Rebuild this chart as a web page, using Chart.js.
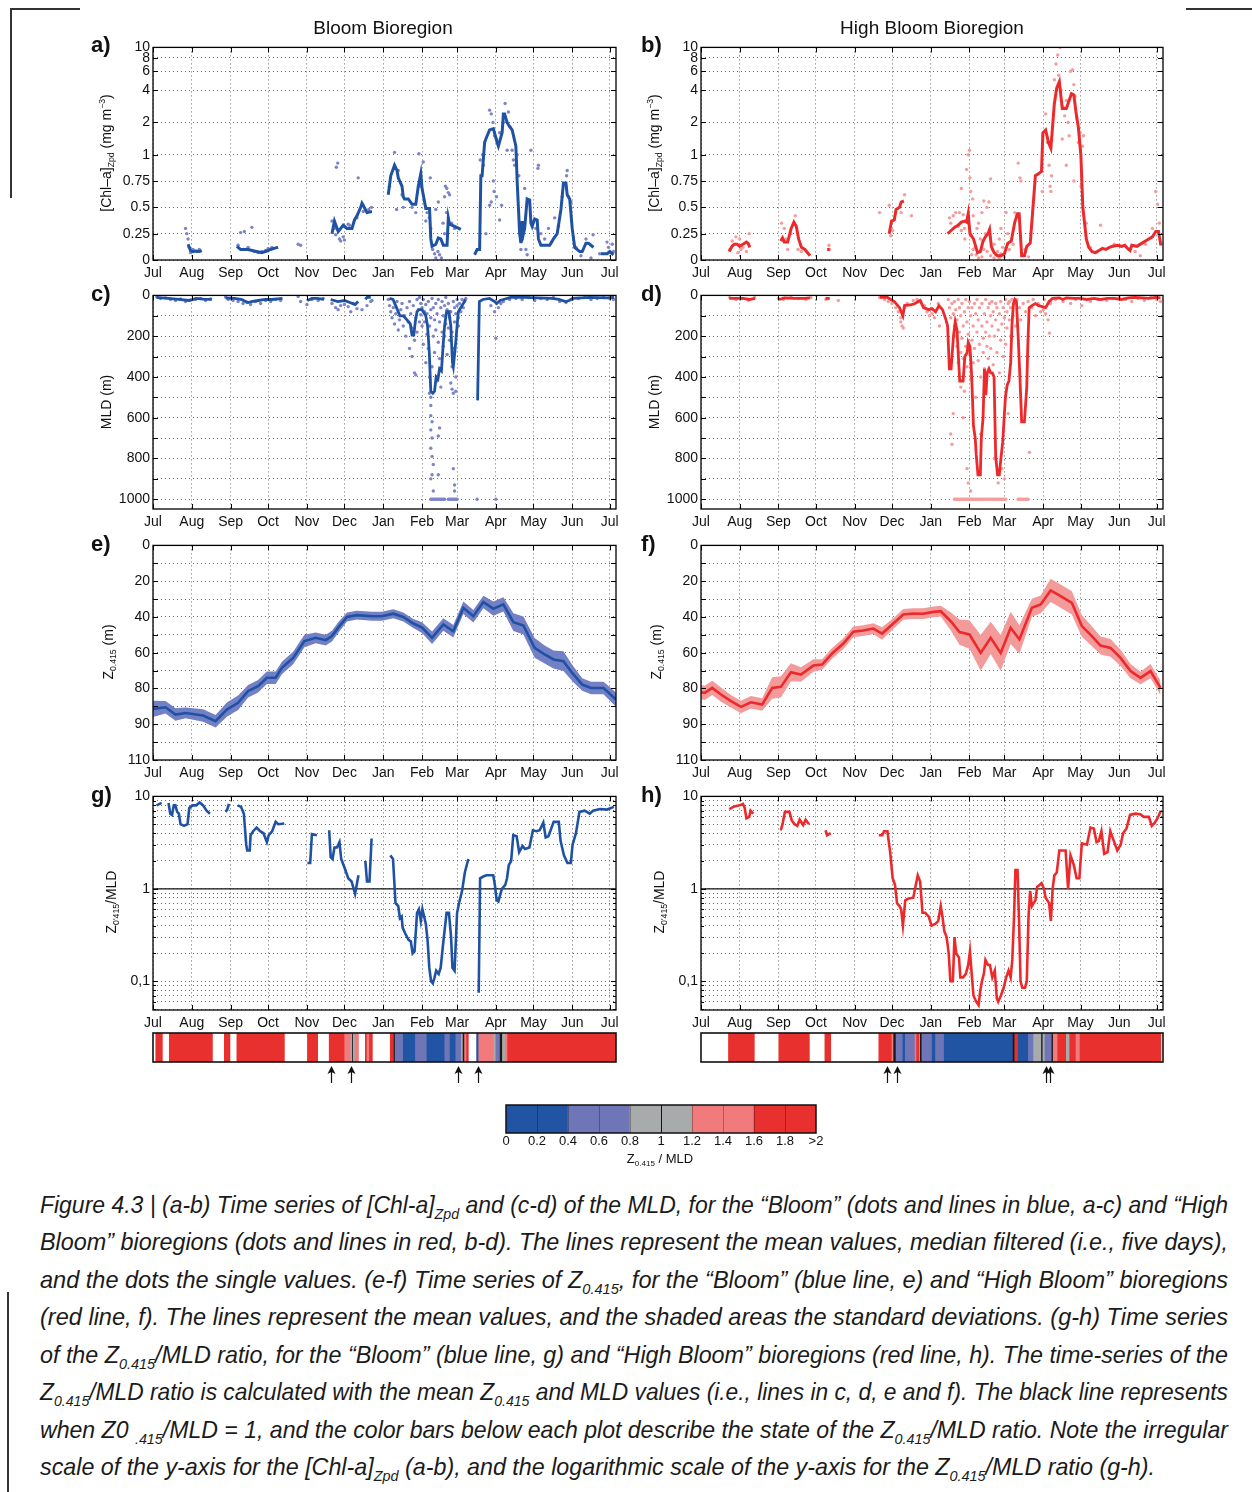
<!DOCTYPE html>
<html>
<head>
<meta charset="utf-8">
<title>Figure 4.3</title>
<script src="https://cdn.jsdelivr.net/npm/chart.js"></script>
<style>
  html, body { margin: 0; padding: 0; background: #fff; }
  body { width: 1252px; height: 1492px; position: relative; overflow: hidden; font-family: "Liberation Sans", Arial, sans-serif; color: #111; }
  canvas { position: absolute; }
  .txt { position: absolute; white-space: nowrap; z-index: 2; }
  .title { font-size: 19px; transform: translate(-50%, -50%); }
  .letter { font-size: 22px; font-weight: bold; transform: translateY(-50%); }
  .ytitle { font-size: 14px; transform: translate(-50%, -50%) rotate(-90deg); }
  .cbtitle { font-size: 13px; transform: translate(-50%, -50%); }
  .rule { position: absolute; background: #333; }
  .cap { position: absolute; left: 40px; font-family: "Liberation Sans Narrow", "Liberation Sans", Arial, sans-serif; font-size: 24px; font-style: italic; white-space: nowrap; transform-origin: 0 50%; color: #1b1b1b; line-height: 30px; }
  sub { font-size: 0.62em; vertical-align: -0.4em; line-height: 0; }
  sup { font-size: 0.62em; vertical-align: 0.65em; line-height: 0; }
</style>
</head>
<body>
<div class="rule" style="left:10px;top:8px;width:70px;height:1.5px"></div>
<div class="rule" style="left:10px;top:8px;width:1.5px;height:190px"></div>
<div class="rule" style="left:1186px;top:8px;width:66px;height:1.5px"></div>
<div class="rule" style="left:7px;top:1292px;width:1.5px;height:200px"></div>

<canvas id="chlBloom"></canvas><canvas id="chlHigh"></canvas>
<canvas id="mldBloom"></canvas><canvas id="mldHigh"></canvas>
<canvas id="zBloom"></canvas><canvas id="zHigh"></canvas>
<canvas id="ratioBloom"></canvas><canvas id="ratioHigh"></canvas>
<canvas id="stripBloom"></canvas><canvas id="stripHigh"></canvas>
<canvas id="colorbar"></canvas>

<div class="txt title" style="left:383px;top:28px">Bloom Bioregion</div>
<div class="txt title" style="left:932px;top:28px">High Bloom Bioregion</div>

<div class="txt letter" style="left:91px;top:45px">a)</div>
<div class="txt letter" style="left:641px;top:45px">b)</div>
<div class="txt letter" style="left:91px;top:294px">c)</div>
<div class="txt letter" style="left:641px;top:294px">d)</div>
<div class="txt letter" style="left:91px;top:544px">e)</div>
<div class="txt letter" style="left:641px;top:544px">f)</div>
<div class="txt letter" style="left:91px;top:795px">g)</div>
<div class="txt letter" style="left:641px;top:795px">h)</div>

<div class="txt ytitle" style="left:106px;top:153px">[Chl–a]<sub>Zpd</sub> (mg m<sup>−3</sup>)</div>
<div class="txt ytitle" style="left:654px;top:153px">[Chl–a]<sub>Zpd</sub> (mg m<sup>−3</sup>)</div>
<div class="txt ytitle" style="left:106px;top:402px">MLD (m)</div>
<div class="txt ytitle" style="left:654px;top:402px">MLD (m)</div>
<div class="txt ytitle" style="left:108px;top:652px">Z<sub>0.415</sub> (m)</div>
<div class="txt ytitle" style="left:656px;top:652px">Z<sub>0.415</sub> (m)</div>
<div class="txt ytitle" style="left:111px;top:902px">Z<sub>0'415</sub>/MLD</div>
<div class="txt ytitle" style="left:659px;top:902px">Z<sub>0'415</sub>/MLD</div>

<div class="txt cbtitle" style="left:660px;top:1158px">Z<sub>0.415</sub> / MLD</div>

<div class="cap" style="top:1190px">Figure 4.3 | (a-b) Time series of [Chl-a]<sub>Zpd</sub> and (c-d) of the MLD, for the “Bloom” (dots and lines in blue, a-c) and  “High</div>
<div class="cap" style="top:1227px">Bloom” bioregions (dots and lines in red, b-d). The lines represent the mean values, median filtered (i.e., five days),</div>
<div class="cap" style="top:1265px">and the dots the single values. (e-f) Time series of Z<sub>0.415</sub>, for the “Bloom” (blue line, e) and “High Bloom” bioregions</div>
<div class="cap" style="top:1302px">(red line, f). The lines represent the mean values, and the shaded areas the standard deviations. (g-h) Time series</div>
<div class="cap" style="top:1340px">of the Z<sub>0.415</sub>/MLD ratio, for the “Bloom” (blue line, g) and “High Bloom” bioregions (red line, h). The time-series of the</div>
<div class="cap" style="top:1377px">Z<sub>0.415</sub>/MLD ratio is calculated with the mean Z<sub>0.415</sub> and MLD values (i.e., lines in c, d, e and f). The black line represents</div>
<div class="cap" style="top:1415px">when Z0 <sub>.415</sub>/MLD = 1, and the color bars below each plot describe the state of the Z<sub>0.415</sub>/MLD ratio. Note the irregular</div>
<div class="cap" style="top:1452px">scale of the y-axis for the [Chl-a]<sub>Zpd</sub> (a-b), and the logarithmic scale of the y-axis for the Z<sub>0.415</sub>/MLD ratio (g-h).</div>

<script>
// time axis: days since 1 July
const monthDays = [0, 31, 62, 92, 123, 153, 184, 215, 243, 274, 304, 335, 365];
const monthLabels = ['Jul', 'Aug', 'Sep', 'Oct', 'Nov', 'Dec', 'Jan', 'Feb', 'Mar', 'Apr', 'May', 'Jun', 'Jul'];

const chlTicks = [0, 0.25, 0.5, 0.75, 1, 2, 4, 6, 8, 10];
const mldTicks = [0, 100, 200, 300, 400, 500, 600, 700, 800, 900, 1000];
const mldLabelTicks = [0, 200, 400, 600, 800, 1000];
const zTicks = [0, 10, 20, 30, 40, 50, 60, 70, 80, 90, 100, 110, 120];
const zLabelVals = [0, 20, 40, 60, 80, 100, 120];
const zLabelText = ['0', '20', '40', '60', '80', '90', '110'];
const ratioTicks = [0.05, 0.06, 0.07, 0.08, 0.09, 0.1, 0.2, 0.3, 0.4, 0.5, 0.6, 0.7, 0.8, 0.9, 1, 2, 3, 4, 5, 6, 7, 8, 9, 10];
const ratioLabelVals = [0.1, 1, 10];
const ratioLabelText = ['0,1', '1', '10'];
const ratioRef = 1;

// (a) [Chl-a] Bloom: filtered line ([day, value], null = gap) and single values
const chlBloomLine = [
  [28,0.15],[30,0.09],[32,0.08],[34,0.085],[37,0.08],[39,0.09], null,
  [67,0.13],[70,0.1],[76,0.1],[81,0.085],[87,0.07],[91,0.085],[94,0.1],[98,0.115],[100,0.12], null,
  [143,0.25],[145,0.37],[148,0.27],[152,0.33],[155,0.3],[159,0.3],[161,0.38],[163,0.42],[166,0.5],[167,0.54],[168,0.52],[171,0.45],[175,0.46], null,
  [188,0.62],[190,0.8],[193,0.9],[195,0.85],[196,0.78],[199,0.7],[200,0.6],[201,0.58],[204,0.58],[207,0.53],[210,0.53],[212,0.7],[214,0.82],[215,0.68],[218,0.49],[221,0.49],[222,0.2],[223,0.13],[226,0.15],[228,0.21],[230,0.2],[232,0.14],[235,0.14],[236,0.4],[237,0.34],[241,0.32],[246,0.29], null,
  [257,0.05],[259,0.1],[261,0.1],[262,0.8],[263,0.8],[265,1.3],[266,1.4],[269,1.7],[272,1.75],[275,1.3],[276,1.2],[279,1.6],[280,2.4],[281,2.4],[283,2.0],[284,1.9],[287,1.7],[290,1.2],[291,0.75],[293,0.25],[294,0.16],[295,0.37],[296,0.25],[297,0.3],[299,0.58],[301,0.57],[302,0.35],[303,0.32],[305,0.39],[307,0.38],[308,0.2],[310,0.14],[313,0.14],[317,0.14],[320,0.2],[323,0.25],[326,0.48],[328,0.73],[330,0.73],[331,0.62],[333,0.58],[335,0.3],[337,0.12],[341,0.08],[343,0.08],[346,0.16],[348,0.16],[350,0.14],[352,0.12], null,
  [358,0.06],[363,0.06],[365,0.08],[368,0.05]
];
const chlBloomDots = [
  [26,0.3],[27,0.25],[28,0.2],[29,0.12],[30,0.07],[32,0.1],[35,0.08],[37,0.1],
  [68,0.14],[70,0.26],[72,0.1],[73,0.27],[76,0.12],[79,0.31],[81,0.08],[84,0.07],[87,0.08],[90,0.09],[92,0.11],[95,0.12],
  [116,0.15],[118,0.14],
  [143,0.37],[145,0.3],[146,0.24],[146.5,0.88],[147.6,0.92],[149,0.2],[150,0.18],[152,0.22],[153,0.19],[156,0.34],[157,0.33],[163,0.4],[164,0.78],[168,0.46],[172.5,0.48],[174.7,0.5],
  [189,0.7],[193,1.05],[194.6,0.48],[196,0.85],[199,0.62],[200,0.5],[207,0.5],[210,0.45],[212.5,1.02],[214,0.7],[216,0.93],[218,0.37],[219,0.45],[220.8,0.4],[221.6,0.78],[222,0.3],[223.5,0.1],[225,0.06],[226,0.02],[226,0.48],[227.7,0.08],[228,0.55],[229,0.05],[230.5,0.02],[231.8,0.35],[233,0.6],[233,0.25],[233.7,0.7],[234.5,0.45],[234.8,0.68],[236,0.64],[237,0.62],[238.6,0.35],[241,0.3],
  [261.5,0.95],[263.4,1.0],[264,0.9],[266,0.25],[269,2.6],[269,0.52],[270.3,2.4],[270.3,0.55],[271.7,2.0],[272,0.75],[272.6,0.65],[273,1.5],[274.5,1.4],[274.5,0.6],[277,1.6],[277,0.38],[278.6,0.52],[280,2.0],[281.4,3.0],[283,1.1],[284,2.5],[285.5,1.8],[287,1.1],[288,0.95],[289,0.9],[291,1.0],[292.4,0.8],
  [294,0.1],[295,0.2],[297,0.68],[298,0.1],[299,0.05],[302,1.1],[306,0.3],[307.6,0.87],[308,0.9],[310,0.25],[313,0.2],[316,0.3],[318.6,0.17],[321,0.4],[324,0.32],[327,0.6],[330.5,0.8],[331,0.85],[332,0.6],[334,0.55],[338,0.12],[342,0.04],[346,0.2],[350,0.02],[351.7,0.24],
  [357,0.06],[362.8,0.17],[364,0.12],[367,0.15],[368,0.08]
];

// (b) [Chl-a] High Bloom
const chlHighLine = [
  [22.6,0.08],[24.8,0.13],[26.7,0.15],[28.9,0.15],[30.9,0.13],[33.6,0.15],[36.4,0.17],[37.7,0.16],[39.1,0.12], null,
  [63.9,0.18],[65.3,0.21],[66.7,0.17],[69.4,0.17],[72.2,0.3],[74.4,0.36],[76.3,0.32],[78.2,0.2],[80.4,0.12],[83.2,0.1],[86,0.06],[87.3,0.04], null,
  [101,0.1],[103,0.1], null,
  [150.7,0.25],[152.6,0.37],[154.8,0.38],[156.2,0.48],[159,0.5],[160.3,0.55],[162.5,0.56], null,
  [197.5,0.25],[200.3,0.28],[203,0.31],[205.8,0.33],[208.5,0.36],[211.3,0.37],[212.7,0.36],[214,0.44],[215.4,0.25],[218.2,0.2],[221.5,0.07],[223.7,0.08],[225.9,0.18],[227.8,0.22],[229.8,0.25],[231.1,0.29],[232.5,0.13],[234.7,0.07],[237.5,0.04],[240.2,0.04],[243,0.06],[245.7,0.16],[248.5,0.18],[251.3,0.36],[253.5,0.44],[254.8,0.44],[256.8,0.04],[259,0.04],[260.9,0.13],[263.7,0.16],[267.8,0.8],[270.5,0.82],[272.7,0.84],[273.8,1.6],[276,1.7],[278.3,1.3],[280.2,1.15],[283,3.0],[284.9,4.2],[287,4.8],[289.3,2.7],[292.6,2.7],[294.8,3.2],[296.7,3.7],[298.6,3.6],[300.3,2.5],[302.2,1.8],[304.2,1.0],[305.8,0.5],[306.9,0.38],[308.6,0.2],[310.5,0.12],[313.2,0.08],[316,0.07],[318.7,0.09],[321.5,0.11],[324.3,0.1],[327,0.12],[329.8,0.13],[333.9,0.14],[336.7,0.13],[339.4,0.14],[341.6,0.11],[343.6,0.09],[345,0.14],[349.1,0.13],[353.2,0.16],[357.3,0.19],[361.5,0.22],[364.2,0.27],[366.4,0.27],[368.3,0.14]
];
const chlHighDots = [
  [23,0.1],[25,0.18],[28,0.22],[29.5,0.07],[31,0.2],[32,0.1],[33.6,0.12],[36.4,0.08],[38.6,0.25],
  [64.5,0.35],[66.7,0.3],[68,0.2],[69.4,0.1],[72,0.25],[75.5,0.42],[77.7,0.1],[80.4,0.08],
  [102.5,0.14],[103,0.1],
  [143,0.45],[150.7,0.52],[152,0.23],[153.5,0.28],[160.3,0.45],[163,0.62],[168.6,0.42],
  [199,0.4],[200,0.35],[202,0.42],[204,0.45],[206,0.32],[207,0.45],[208.5,0.68],[208.5,0.28],[210,0.43],[211,0.3],[211.3,0.2],[212.7,0.86],[214,1.0],[215,1.1],[215.4,0.78],[216,0.65],[216.8,0.05],[217.6,0.58],[218,0.42],[218,0.1],[219.6,0.12],[220.4,0.05],[221,0.3],[222.3,0.35],[222.3,0.02],[223.7,0.2],[225,0.45],[225,0.03],[226.5,0.56],[226.5,0.1],[227.8,0.25],[229,0.5],[229.2,0.08],[230.6,0.55],[232,0.77],[232,0.04],[233.3,0.1],[234.7,0.15],[234.7,0.02],[236,0.05],[237.5,0.08],[238.9,0.2],[238.9,0.02],[240.2,0.3],[240.2,0.06],[241.6,0.12],[243,0.03],[244.4,0.45],[245.7,0.25],[247,0.1],[250,0.15],[251.3,0.45],[252.6,0.42],[254,0.92],[255.4,0.78],[256.2,0.75],[258,0.05],[259.5,0.1],[262.3,0.03],
  [273.3,0.65],[273.8,1.5],[276,2.4],[277.4,1.3],[278.8,0.9],[279.6,0.7],[280.2,0.65],[280.7,0.8],[283,5.0],[284.3,7.0],[285.7,8.5],[286.5,5.5],[287.6,10],[288.4,4.0],[289.3,1.4],[289.8,2.8],[291.2,2.3],[292.6,3.2],[292.6,0.9],[294,2.0],[294.8,1.5],[295.9,6.0],[297.5,6.2],[298.6,4.5],[298.6,0.75],[299.5,3.5],[300.8,2.2],[302.2,1.3],[303.6,1.6],[304.4,0.7],[305.5,1.2],[306.4,1.5],[308.6,0.35],
  [311.9,0.12],[320,0.33],[331,0.15],[347.7,0.08],[351.8,0.04],[356,0.15],[361.5,0.3],[364.2,0.65],[365.6,0.53],[367,0.35],[368.3,0.15]
];

// (c) MLD Bloom
const mldBloomLine = [
  [2.8,10],[6.9,12],[12.4,15],[20.7,20],[29,25],[34.5,15],[40,18],[47,20], null,
  [58,12],[65,15],[70.4,20],[76,35],[78.7,30],[84,25],[89.7,20],[95,20],[103.5,15], null,
  [123.4,25],[127,15],[131,15],[136.6,20], null,
  [142,20],[147.7,30],[153,25],[157.3,35],[161.5,45],[164,30], null,
  [169.7,20],[171,10],[174,10], null,
  [189,15],[191.8,20],[194.6,60],[197.3,100],[200,100],[203,120],[205.6,140],[207,195],[208.4,195],[209.8,120],[211,80],[212.5,70],[215,70],[218,100],[219.4,150],[220.8,280],[222,470],[223.6,480],[225,470],[226.3,400],[227.7,410],[229,360],[230.5,370],[231.8,250],[233,150],[234.6,80],[236.5,80],[238,150],[239.3,330],[240,350],[241.5,260],[243,150],[244,80],[247,50],[249.8,20], null,
  [259.4,515],[260.8,30],[263.6,20],[269,15],[273,30],[274.6,40],[277.4,25],[280,20],[285.7,10],[296.7,10],[307.7,12],[318.8,15],[324.3,20],[329.8,30],[332.6,25],[335.3,15],[349,10],[363,12],[368.5,10]
];
const mldBloomDots = [
  [3,8],[6,15],[10,12],[14,20],[18,25],[22,18],[26,30],[30,22],[34,20],[38,15],[42,25],[46,18],[58,8],[60,20],[64,25],[68,30],[72,40],[75,35],[78,45],[82,30],[86,40],[90,25],[94,30],[98,20],[102,25],
  [116,5],[118,30],[123,45],[127,20],[132,25],[136,15],[143,40],[146,60],[148,70],[150,50],[153,45],[156,55],[158,80],[160,40],[163,65],[167,70],[171,50],[174,30],[175,25],
  [188,20],[189,50],[190,80],[191,110],[192,60],[193,140],[194,90],[195,30],[196,170],[197,120],[198,70],[199,40],[200,150],[201,100],[202,200],[203,60],[204,130],[205,30],[205,260],[206,90],[207,300],[207,160],[208,50],[209,220],[209,380],[210,110],[210,390],[211,20],[211,180],[212,70],[213,10],[213,130],[214,40],[214,95],[215,60],[215,150],[216,20],[216,240],[217,80],[217,130],[218,45],[218,330],[219,190],[219,90],[220,30],[220,260],[221,150],[221,400],[222,70],[222,110],[223,350],[223,15],[224,200],[224,60],[225,120],[225,280],[226,40],[226,170],[227,90],[227,420],[228,230],[228,20],[229,130],[229,310],[230,60],[230,450],[231,180],[231,30],[232,100],[232,250],[233,50],[233,200],[234,140],[234,10],[235,290],[235,70],[236,160],[236,40],[237,110],[237,220],[238,80],[238,430],[239,180],[239,350],[240,30],[240,260],[241,130],[241,60],[242,90],[242,400],[243,50],[243,20],[244,110],[244,150],[245,40],[246,80],[247,20],[248,60],[249,30],[250,15],
  [221,480],[222,500],[222,540],[222,590],[223,620],[222,660],[223,700],[222,750],[223,790],[224,830],[223,880],[222,900],[224,960],[228,690],[229,650],[228,880],[240,850],[241,930],[241,960],[239,460],[240,480],[242,470],
  [222,1000],[223,1000],[224,1000],[225,1000],[226,1000],[227,1000],[228,1000],[229,1000],[230,1000],[231,1000],[232,1000],[233,1000],[236,1000],[237,1000],[238,1000],[239,1000],[240,1000],[241,1000],[242,1000],[243,1000],
  [259,1000],[274,1000],[274,210],[270,50],[273,80],[276,60],[278,40],[280,30],[285,20],
  [290,15],[295,20],[300,10],[305,25],[310,15],[315,20],[320,10],[325,30],[330,35],[335,20],[340,15],[345,10],[350,20],[355,15],[360,10],[365,15],[368,20]
];

// (d) MLD High Bloom
const mldHighLine = [
  [22.6,15],[33.6,15],[39,20],[43.3,15], null,
  [62.5,20],[66.7,12],[75,15],[83.2,15],[87.3,12], null,
  [99.7,15],[103,15], null,
  [143.3,10],[149.3,10],[154.8,30],[159,60],[161.7,100],[163,50],[168.6,45],[171.4,40],[174,30],[175.5,25],[178.2,60],[182.4,70],[185,65],[187.9,80],[190.6,50],[193.4,70],[196.2,120],[197.5,150],[198.9,360],[200.3,360],[202.2,200],[203.6,130],[205,170],[207.2,420],[209.9,420],[211.3,300],[213.2,280],[214,230],[215.4,250],[216.8,400],[218.2,640],[219.6,700],[220.4,780],[221.8,880],[223.7,880],[224.5,700],[225.9,600],[227,360],[228.1,490],[229.2,380],[230.6,360],[232,380],[233.3,380],[234.7,400],[236,790],[237.5,880],[238.9,880],[240.2,800],[241.6,720],[243,580],[243.8,500],[245.2,440],[246.6,420],[248,330],[249,150],[250.2,40],[251.3,20],[252.6,30],[254,200],[255.4,400],[256.8,620],[259,620],[260.9,450],[261.7,250],[262.8,60],[265,50],[267.8,40],[270.5,50],[273.3,55],[276,60],[278.8,30],[281.6,15],[287,12],[289.8,20],[292.6,12],[298,15],[303.6,15],[309,20],[314.6,15],[320,20],[325.6,15],[331,15],[336.7,20],[342.2,12],[347.7,10],[353.2,12],[358.7,15],[364.2,10],[368,12]
];
const mldHighDots = [
  [23,10],[28,20],[33,15],[38,25],[43,10],[62,15],[66,20],[72,10],[78,15],[84,20],[88,10],[100,20],[102,15],[110,25],
  [143,10],[147,20],[150,30],[153,40],[156,60],[158,80],[160,110],[160,130],[161,150],[162,160],[163,60],[165,40],[170,25],[173,20],[176,30],[179,50],[181,80],[183,100],[185,90],[187,110],[190,40],[191,150],
  [198,20],[199,60],[200,110],[200,680],[201,40],[201,730],[202,90],[202,580],[203,150],[203,30],[204,200],[204,70],[205,250],[205,120],[206,20],[206,330],[207,180],[207,60],[208,280],[208,450],[208,100],[209,40],[209,210],[210,150],[210,310],[210,600],[211,80],[211,470],[212,250],[212,20],[213,130],[213,350],[213,850],[214,60],[214,190],[214,920],[215,290],[215,30],[216,100],[216,410],[216,960],[217,220],[217,60],[218,150],[218,330],[219,40],[219,260],[220,90],[220,500],[221,180],[221,20],[222,320],[222,120],[223,60],[223,240],[224,400],[224,680],[225,150],[225,40],[226,280],[226,210],[227,90],[227,360],[228,20],[228,180],[229,250],[229,130],[230,60],[230,310],[231,200],[231,40],[232,100],[232,260],[233,150],[233,30],[234,340],[234,80],[235,200],[235,800],[236,40],[236,120],[237,280],[237,60],[238,170],[238,920],[239,90],[239,380],[240,30],[240,220],[241,140],[241,850],[242,60],[242,300],[243,110],[243,900],[244,20],[244,240],[245,80],[245,160],[246,40],[246,580],[247,120],[247,30],[248,200],[248,60],[249,20],[250,100],[251,40],[252,150],[253,20],[255,60],[256,120],[258,40],[260,80],[262,30],[263,770],[265,60],[268,100],[270,50],[272,80],[275,20],[278,120],[280,40],[279,185],
  [203,1000],[204,1000],[205,1000],[206,1000],[207,1000],[208,1000],[209,1000],[210,1000],[211,1000],[212,1000],[213,1000],[214,1000],[215,1000],[216,1000],[217,1000],[218,1000],[219,1000],[220,1000],[221,1000],[222,1000],[223,1000],[224,1000],[225,1000],[226,1000],[227,1000],[228,1000],[229,1000],[230,1000],[231,1000],[232,1000],[233,1000],[234,1000],[235,1000],[236,1000],[237,1000],[238,1000],[239,1000],[240,1000],[241,1000],[242,1000],[243,1000],[244,1000],
  [254,1000],[255,1000],[256,1000],[257,1000],[258,1000],[259,1000],[260,1000],[261,1000],[262,1000],
  [266,20],[270,40],[274,70],[276,90],[280,30],[284,20],[290,30],[296,40],[300,20],[305,50],[312,30],[318,20],[325,25],[330,15],[335,10],[340,20],[345,30],[350,15],[355,25],[360,10],[365,20],[368,30]
];

// (e) Z0.415 Bloom: mean and standard deviation
const zBloomDays = [0,10,18,26,40,50,59,68,76,84,91,98,103,112,121,130,138,143,148,155,163,175,183,192,200,208,215,223,232,240,248,256,264,272,280,288,296,305,313,320,328,335,343,350,360,370];
const zBloomMean = [91.4,90.5,94.6,93.7,95.1,98.3,91.8,88,81.5,78.7,74,74,68.5,62.9,53.5,51.7,53,50.7,46,40,39,39.6,39.6,38.2,40,43.7,46,51.7,44.2,48,34.9,39.6,31.7,35.4,33,42.9,44.8,57.3,61,63.8,64.7,71.3,77.8,79.7,79.7,86.2];
const zBloomStd = [4.5,3.5,3.5,3,3.5,3.5,4,4,3.5,3.5,3.5,3.5,3.5,3.5,3.5,3,3,3,3,2.5,2.5,2.5,2.5,2.5,2.5,2.5,3,3.5,3.5,3.5,3.5,3.5,3.5,4,4,5,5,5.5,5,5,5.5,4.5,3.5,3.5,3.5,4];

// (f) Z0.415 High Bloom
const zHighDays = [0,3,9,16,24,32,40,49,57,64,72,80,90,97,105,114,122,130,138,145,154,162,170,178,185,192,200,207,215,224,232,240,248,255,265,272,280,288,297,305,313,320,328,336,344,352,360,368];
const zHighMean = [82.1,82.5,79.7,83.4,87.1,90.3,87.7,89,79.7,79.1,70.9,72.2,67.2,66.6,60.4,54.9,48.3,47.6,46.5,49.3,43.7,38.6,38.1,38.2,37.3,36.8,42.4,48.5,49.8,60.1,51.7,60.1,46.1,52.6,34.9,33,25.2,28.4,32.1,45.1,50.7,56,57.3,62.9,70.3,74.1,70.3,79.7];
const zHighStd = [4,4,4,4,3.5,3.5,3.5,3.5,6,6,5,4,3.5,3,3,3,3,3,3,3.5,3,3,3,3,3,3,5,7,8,10,9,10,9,8,5,5,6.5,6.5,6.5,6,5.5,5,5,4.5,4,3.5,4,4];

// (g) Z0.415/MLD Bloom
const ratioBloomLine = [
  [2.8,8.0],[6.9,8.5], null,
  [12.4,8.5],[13.8,6.5],[15.2,6.3],[16.6,8.0],[17.9,8.0],[19.3,6.8],[20.7,6.5],[22,5.0],[24.8,4.8],[27.6,5.0],[29,7.5],[31.7,8.0],[34.5,8.0],[37.3,8.6],[40,8.0],[42.8,7.0],[45.5,6.5], null,
  [58,6.8],[59.3,7.2],[60.7,8.3], null,
  [67.6,8.0],[70.4,7.7],[72.6,6.5],[74.5,3.0],[75.3,2.6],[77.3,2.6],[78,3.8],[80,4.2],[82.8,4.6],[85.6,4.2],[88.3,4.0],[91,3.2],[92.5,3.8],[95.2,4.2],[98,5.3],[100,5.0],[104.9,5.1], null,
  [123.4,1.9],[125.6,1.9],[127,3.9],[131,3.8], null,
  [140.8,4.3],[142,2.2],[143.5,2.1],[145,2.8],[147,2.8],[149,3.2],[150.4,2.1],[153,1.7],[156,1.3],[158.7,1.2],[161.5,0.88],[164.2,1.4], null,
  [169.7,2.0],[171,1.2],[173,1.2],[174.7,3.5], null,
  [189.6,2.3],[191.8,2.1],[193.8,0.7],[196,0.65],[197.3,0.48],[198.7,0.5],[199.5,0.38],[201.5,0.33],[204.2,0.28],[206,0.27],[207.5,0.2],[209,0.21],[211,0.55],[212.5,0.6],[214,0.45],[215.3,0.6],[218,0.42],[219.4,0.28],[220.8,0.14],[222.2,0.1],[223.6,0.095],[225,0.11],[226.3,0.13],[228.3,0.12],[229.9,0.14],[231.8,0.25],[234.6,0.55],[236.5,0.55],[238.2,0.3],[239.3,0.14],[241,0.13],[243,0.55],[244.8,0.72],[247,0.95],[249.2,1.5],[252,2.1], null,
  [260.3,0.075],[261.4,1.3],[263.6,1.35],[266.3,1.4],[271.9,1.4],[273.2,1.1],[274.6,0.75],[276,0.73],[278.8,1.0],[281.5,1.1],[282.9,1.3],[284.3,1.8],[286.2,2.0],[287.9,3.8],[290.6,3.7],[292.6,2.5],[295.3,2.9],[297.3,2.7],[300.8,2.8],[303.6,4.3],[306.4,4.2],[309,4.3],[311.9,5.2],[313.8,3.6],[316,3.7],[320.2,5.3],[324.3,5.3],[325.7,3.3],[328.4,2.3],[331.2,1.9],[333.9,1.9],[335.3,3.0],[338,4.0],[340.8,6.8],[345,7.0],[349,6.5],[351.7,7.0],[357.3,7.3],[362.8,7.2],[368.3,7.7]
];

// (h) Z0.415/MLD High Bloom
const ratioHighLine = [
  [22.6,7.3],[26.7,7.8],[30.9,8.0],[33.6,8.3],[35,7.5],[36.4,5.8],[38.6,6.0],[39.7,7.0],[41.9,6.5], null,
  [63.9,4.3],[65.3,5.0],[67.2,6.8],[70.8,6.8],[72.7,5.5],[74.9,5.0],[77.1,4.8],[79,5.6],[81.8,4.9],[83.8,5.6],[86.5,5.0], null,
  [99.7,4.3],[101,3.8],[103.9,4.0], null,
  [142.4,3.8],[145.2,3.8],[146.6,4.2],[149.3,4.2],[151.5,2.5],[153.5,1.3],[155.4,1.1],[157,0.7],[159,0.65],[160.3,0.6],[161.7,0.4],[163.6,0.75],[165.8,0.78],[170,0.8],[171.4,1.0],[173.6,1.4],[175.5,1.2],[177.4,0.55],[179.6,0.55],[182.4,0.5],[184.6,0.4],[187.9,0.42],[190,0.45],[192,0.65],[193.4,0.5],[194.8,0.35],[196.7,0.3],[198.4,0.2],[199.7,0.1],[201.7,0.1],[203,0.3],[204.4,0.2],[206.6,0.18],[207.7,0.11],[209.9,0.11],[212.1,0.12],[214,0.15],[215.4,0.21],[216.8,0.12],[218.2,0.07],[220.4,0.06],[222.3,0.055],[223.7,0.08],[225,0.1],[226.5,0.12],[227.8,0.17],[229.8,0.15],[231.4,0.15],[233.3,0.11],[235.3,0.13],[236.9,0.065],[238,0.06],[240.2,0.07],[242.4,0.085],[244.4,0.11],[246.3,0.13],[248,0.11],[249.3,0.17],[250.7,0.5],[251.8,1.6],[253.5,1.6],[254.8,0.4],[255.9,0.1],[257.3,0.085],[259.5,0.085],[260.9,0.1],[262.3,0.5],[263.6,0.95],[265,0.65],[267.8,0.75],[269.2,1.05],[271.1,1.1],[272.7,1.15],[274.7,1.0],[276,0.8],[278.8,0.7],[280.2,0.45],[281.6,1.0],[283,1.4],[284.9,1.5],[287,2.6],[292,2.6],[294,1.0],[295.9,2.3],[298.6,1.8],[300.8,1.3],[303,1.3],[305,3.1],[309.1,3.0],[311.9,4.6],[314.6,4.5],[316.8,3.2],[318.7,3.3],[320.7,4.2],[322.9,2.4],[325.6,2.5],[327.8,4.2],[330.6,3.3],[333.4,2.6],[336.1,3.0],[338,4.0],[340.8,4.5],[343.6,6.3],[347.7,6.5],[351.8,6.4],[354.6,6.0],[358.7,6.0],[361,4.8],[363.5,5.2],[365.6,5.8],[368.3,7.0]
];

// colour bars below (g) and (h): [start day, end day, state]
const stripBloom = [
  [2.2,7.5,'R'],[13,47.5,'R'],[57,61.5,'R'],[67,105,'R'],[123.4,131.6,'R'],[140.8,153.2,'R'],[153.2,158.1,'LR'],[158.1,159.3,'G'],[159.3,160,'K'],[160,161.5,'G'],[161.5,164.2,'LR'],
  [169.7,171,'R'],[171,173,'LR'],[173,175.3,'R'],[189.6,192.6,'R'],[192.6,193.5,'K'],[193.5,200,'LB'],[200,209.8,'B'],[209.8,218.9,'LB'],[218.9,233.2,'B'],[233.2,237.4,'LB'],[237.4,242,'B'],[242,246.5,'LB'],[246.5,247.8,'G'],[247.8,249,'K'],[249,250.6,'LR'],[250.6,252,'R'],
  [258.6,260.3,'B'],[260.3,272.4,'LR'],[272.4,274,'G'],[274,277.4,'LB'],[277.4,279.3,'K'],[279.3,281.5,'G'],[281.5,283.4,'LR'],[283.4,370,'R']
];
const stripHigh = [
  [22,42.7,'R'],[62.3,86.8,'R'],[99.2,103.9,'R'],[142.4,152.9,'R'],[152.9,154.3,'LR'],[154.3,156.2,'K'],[156.2,161.7,'LB'],[161.7,163.6,'B'],[163.6,171.4,'LB'],[171.4,172.7,'LR'],[172.7,174.7,'R'],[175.5,176.9,'K'],[176.9,185.1,'LB'],[185.1,187.9,'B'],[187.9,194.8,'LB'],[194.8,249.9,'B'],[249.9,251.3,'K'],[251.3,254,'R'],[254,262.3,'B'],[262.3,266.4,'LB'],[266.4,272.7,'G'],[272.7,273.8,'K'],[273.8,275.5,'G'],[275.5,281,'LB'],[281,282.1,'K'],[282.1,285.7,'LR'],[285.7,292.6,'R'],[292.6,295.3,'G'],[295.3,300.3,'R'],[300.3,303.6,'LR'],[303.6,368.3,'R']
];
const arrowsBloom = [142, 158.6, 244, 260];
const arrowsHigh = [148.8, 157, 276, 279.6];

// legend colour scale
const cbEdges = [0, 0.2, 0.4, 0.6, 0.8, 1, 1.2, 1.4, 1.6, 1.8, 2];
const cbLabels = ['0', '0.2', '0.4', '0.6', '0.8', '1', '1.2', '1.4', '1.6', '1.8', '>2'];
const cbStates = ['B', 'B', 'LB', 'LB', 'G', 'G', 'LR', 'LR', 'R', 'R'];

const stateColors = { B: '#2155a4', LB: '#6e76b8', G: '#a8abab', LR: '#f07a7c', R: '#e8302f', K: '#1a1a1a' };
const BLUE_LINE = '#1f52a3', BLUE_DOT = '#7d85c9', BLUE_BAND = '#7380c5';
const RED_LINE = '#ec2a2c', RED_DOT = '#f59d9d', RED_BAND = '#f39a9b';

// layout of the plot areas
const colL = [153, 701], colR = [616, 1163];
const rowT = [46, 294, 544, 795], rowB = [260, 509, 760, 1010];
const AXW = 70, PADR = 14, PADT = 10, AXH = 26;

Chart.defaults.font.family = "'Liberation Sans', Arial, sans-serif";
Chart.defaults.font.size = 14;
Chart.defaults.color = '#111';

// irregular [Chl-a] axis: linear up to 1, log2 above
const CHL_OCT = 32.5 / 106;
const chlPos = v => v <= 1 ? v : 1 + Math.log2(v) * CHL_OCT;
class ChlScale extends Chart.LinearScale {
  buildTicks() { return chlTicks.map(v => ({ value: v })); }
  getPixelForValue(v) {
    if (v === null || v === undefined || isNaN(v)) return NaN;
    return this.getPixelForDecimal(chlPos(v) / chlPos(10));
  }
}
ChlScale.id = 'chl';
ChlScale.defaults = Chart.LinearScale.defaults;
Chart.register(ChlScale);

const pts = arr => {
  const out = [];
  let lx = 0;
  arr.forEach(p => {
    if (p) { out.push({ x: p[0], y: p[1] }); lx = p[0]; }
    else out.push({ x: lx, y: null });
  });
  return out;
};
const lineDs = (data, color, w) => ({ data: pts(data), borderColor: color, borderWidth: w, pointRadius: 0, fill: false });
const dotDs = (data, color) => ({ data: pts(data), showLine: false, pointRadius: 1.7, pointBackgroundColor: color, pointBorderWidth: 0, borderColor: color });
function bandSets(days, mean, std, lineColor, bandColor) {
  return [
    { data: days.map((d, i) => ({ x: d, y: mean[i] })), borderColor: lineColor, borderWidth: 2.6, pointRadius: 0 },
    { data: days.map((d, i) => ({ x: d, y: mean[i] - std[i] })), borderWidth: 0, borderColor: 'rgba(0,0,0,0)', backgroundColor: bandColor, fill: '+1', pointRadius: 0 },
    { data: days.map((d, i) => ({ x: d, y: mean[i] + std[i] })), borderWidth: 0, borderColor: 'rgba(0,0,0,0)', pointRadius: 0, fill: false }
  ];
}

const gridStyle = { color: '#6a6a6a', lineWidth: 1, drawTicks: false };
const dotted = { display: false, dash: [1, 3] };

function monthAxis() {
  return {
    type: 'linear', min: 0, max: 370, bounds: 'data',
    afterBuildTicks: s => { s.ticks = monthDays.map(v => ({ value: v })); },
    ticks: { callback: (v, i) => monthLabels[i], padding: 5, maxRotation: 0, autoSkip: false },
    grid: gridStyle, border: dotted,
    afterFit: s => { s.height = AXH; }
  };
}

// box, inward tick marks
const framePlugin = {
  id: 'frame',
  afterDraw(chart, args, opts) {
    const { ctx, chartArea: a, scales } = chart;
    ctx.save();
    ctx.strokeStyle = '#000';
    ctx.lineWidth = 1;
    ctx.beginPath();
    scales.x.ticks.forEach((t, i) => {
      const px = Math.round(scales.x.getPixelForTick(i)) + 0.5;
      ctx.moveTo(px, a.top); ctx.lineTo(px, a.top + 5);
      ctx.moveTo(px, a.bottom); ctx.lineTo(px, a.bottom - 5);
    });
    scales.y.ticks.forEach((t, i) => {
      const len = opts.yMajor && !opts.yMajor(t.value) ? 3 : 5;
      const py = Math.round(scales.y.getPixelForTick(i)) + 0.5;
      ctx.moveTo(a.left, py); ctx.lineTo(a.left + len, py);
      ctx.moveTo(a.right, py); ctx.lineTo(a.right - len, py);
    });
    ctx.stroke();
    ctx.lineWidth = 1.3;
    ctx.strokeRect(a.left, a.top, a.right - a.left, a.bottom - a.top);
    ctx.restore();
  }
};

function panel(id, col, row, yScale, datasets, yMajor) {
  const cv = document.getElementById(id);
  cv.width = colR[col] - colL[col] + AXW + PADR;
  cv.height = rowB[row] - rowT[row] + PADT + AXH;
  cv.style.left = (colL[col] - AXW) + 'px';
  cv.style.top = (rowT[row] - PADT) + 'px';
  const y = Object.assign({
    grid: gridStyle, border: dotted,
    afterFit: s => { s.width = AXW; }
  }, yScale);
  y.ticks = Object.assign({ padding: 3, autoSkip: false }, yScale.ticks || {});
  return new Chart(cv, {
    type: 'line',
    data: { datasets },
    options: {
      responsive: false, animation: false, events: [],
      layout: { padding: { left: 0, right: PADR, top: PADT, bottom: 0 } },
      plugins: { legend: { display: false }, tooltip: { enabled: false }, frame: { yMajor } },
      scales: { x: monthAxis(), y }
    },
    plugins: [framePlugin]
  });
}

const chlAxis = () => ({ type: 'chl', min: 0, max: 10, ticks: { callback: v => String(v) } });
const mldAxis = () => ({
  type: 'linear', min: 0, max: 1048, reverse: true, bounds: 'data',
  afterBuildTicks: s => { s.ticks = mldTicks.map(v => ({ value: v })); },
  ticks: { callback: v => mldLabelTicks.includes(v) ? String(v) : '' }
});
const zAxis = () => ({
  type: 'linear', min: 0, max: 120, reverse: true, bounds: 'data',
  afterBuildTicks: s => { s.ticks = zTicks.map(v => ({ value: v })); },
  ticks: { callback: v => { const k = zLabelVals.indexOf(v); return k < 0 ? '' : zLabelText[k]; } }
});
const ratioAxis = () => ({
  type: 'logarithmic', min: 0.0488, max: 10, bounds: 'data',
  afterBuildTicks: s => { s.ticks = ratioTicks.map(v => ({ value: v })); },
  ticks: { callback: v => { const k = ratioLabelVals.indexOf(v); return k < 0 ? '' : ratioLabelText[k]; } }
});
const refLine = { data: [{ x: 0, y: ratioRef }, { x: 370, y: ratioRef }], borderColor: '#111', borderWidth: 1.3, pointRadius: 0 };

panel('chlBloom', 0, 0, chlAxis(), [lineDs(chlBloomLine, BLUE_LINE, 3), dotDs(chlBloomDots, BLUE_DOT)]);
panel('chlHigh', 1, 0, chlAxis(), [lineDs(chlHighLine, RED_LINE, 3), dotDs(chlHighDots, RED_DOT)]);
panel('mldBloom', 0, 1, mldAxis(), [lineDs(mldBloomLine, BLUE_LINE, 2.8), dotDs(mldBloomDots, BLUE_DOT)]);
panel('mldHigh', 1, 1, mldAxis(), [lineDs(mldHighLine, RED_LINE, 2.8), dotDs(mldHighDots, RED_DOT)]);
panel('zBloom', 0, 2, zAxis(), bandSets(zBloomDays, zBloomMean, zBloomStd, BLUE_LINE, BLUE_BAND));
panel('zHigh', 1, 2, zAxis(), bandSets(zHighDays, zHighMean, zHighStd, RED_LINE, RED_BAND));
panel('ratioBloom', 0, 3, ratioAxis(), [lineDs(ratioBloomLine, BLUE_LINE, 2.6), Object.assign({}, refLine)], v => ratioLabelVals.includes(v));
panel('ratioHigh', 1, 3, ratioAxis(), [lineDs(ratioHighLine, RED_LINE, 2.6), Object.assign({}, refLine)], v => ratioLabelVals.includes(v));

// state strips with arrows
const stripPlugin = {
  id: 'stripdeco',
  afterDraw(chart, args, opts) {
    const { ctx, chartArea: a, scales: { x } } = chart;
    ctx.save();
    ctx.strokeStyle = '#111';
    ctx.lineWidth = 1.6;
    ctx.strokeRect(a.left, a.top, a.right - a.left, a.bottom - a.top);
    ctx.fillStyle = '#111';
    (opts.at || []).forEach(d => {
      const px = Math.round(x.getPixelForValue(d)) + 0.5;
      const tip = a.bottom + 4, tail = a.bottom + 21;
      ctx.lineWidth = 1.2;
      ctx.beginPath(); ctx.moveTo(px, tip + 5); ctx.lineTo(px, tail); ctx.stroke();
      ctx.beginPath(); ctx.moveTo(px, tip); ctx.lineTo(px - 4, tip + 8); ctx.lineTo(px, tip + 6); ctx.lineTo(px + 4, tip + 8); ctx.closePath(); ctx.fill();
    });
    ctx.restore();
  }
};
function strip(id, col, top, segs, arrows) {
  const cv = document.getElementById(id);
  const H = 29;
  cv.width = colR[col] - colL[col] + 20;
  cv.height = H + 4 + 30;
  cv.style.left = (colL[col] - 10) + 'px';
  cv.style.top = (top - 4) + 'px';
  new Chart(cv, {
    type: 'bar',
    data: { labels: ['s'], datasets: [{
      data: segs.map(s => ({ x: [s[0], s[1]], y: 's' })),
      backgroundColor: segs.map(s => stateColors[s[2]]),
      borderWidth: 0, barThickness: H, grouped: false
    }] },
    options: {
      indexAxis: 'y', responsive: false, animation: false, events: [],
      layout: { padding: { left: 10, right: 10, top: 4, bottom: 30 } },
      plugins: { legend: { display: false }, tooltip: { enabled: false }, stripdeco: { at: arrows } },
      scales: { x: { type: 'linear', min: 0, max: 370, display: false }, y: { type: 'category', display: false } }
    },
    plugins: [stripPlugin]
  });
}
strip('stripBloom', 0, 1033, stripBloom, arrowsBloom);
strip('stripHigh', 1, 1033, stripHigh, arrowsHigh);

// colour legend
(function () {
  const cv = document.getElementById('colorbar');
  cv.width = 350; cv.height = 55;
  cv.style.left = '486px'; cv.style.top = '1100px';
  const cbPlugin = {
    id: 'cbdeco',
    afterDraw(chart) {
      const { ctx, chartArea: a, scales: { x } } = chart;
      ctx.save();
      cbEdges.slice(1, -1).forEach(v => {
        const px = Math.round(x.getPixelForValue(v)) + 0.5;
        ctx.strokeStyle = v === 1 ? '#111' : 'rgba(0,0,0,0.28)';
        ctx.lineWidth = 1;
        ctx.beginPath(); ctx.moveTo(px, a.top); ctx.lineTo(px, a.bottom); ctx.stroke();
      });
      ctx.strokeStyle = '#111'; ctx.lineWidth = 1.5;
      ctx.strokeRect(a.left, a.top, a.right - a.left, a.bottom - a.top);
      ctx.restore();
    }
  };
  new Chart(cv, {
    type: 'bar',
    data: { labels: ['s'], datasets: [{
      data: cbStates.map((s, i) => ({ x: [cbEdges[i], cbEdges[i + 1]], y: 's' })),
      backgroundColor: cbStates.map(s => stateColors[s]),
      borderWidth: 0, barThickness: 28, grouped: false
    }] },
    options: {
      indexAxis: 'y', responsive: false, animation: false, events: [],
      layout: { padding: { left: 20, right: 20, top: 5, bottom: 0 } },
      plugins: { legend: { display: false }, tooltip: { enabled: false } },
      scales: {
        x: {
          type: 'linear', min: 0, max: 2, bounds: 'data',
          afterBuildTicks: s => { s.ticks = cbEdges.map(v => ({ value: v })); },
          ticks: { callback: (v, i) => cbLabels[i], font: { size: 13 }, padding: 1, maxRotation: 0, autoSkip: false },
          grid: { display: false, drawTicks: false }, border: { display: false },
          afterFit: s => { s.height = 22; }
        },
        y: { type: 'category', display: false }
      }
    },
    plugins: [cbPlugin]
  });
})();

// justify caption lines by horizontal scaling
const capWidths = [1188, 1188, 1188, 1188, 1188, 1188, 1188, 1115];
document.querySelectorAll('.cap').forEach((el, i) => {
  const w = el.getBoundingClientRect().width;
  el.style.transform = 'scaleX(' + (capWidths[i] / w) + ')';
});
</script>
</body>
</html>
